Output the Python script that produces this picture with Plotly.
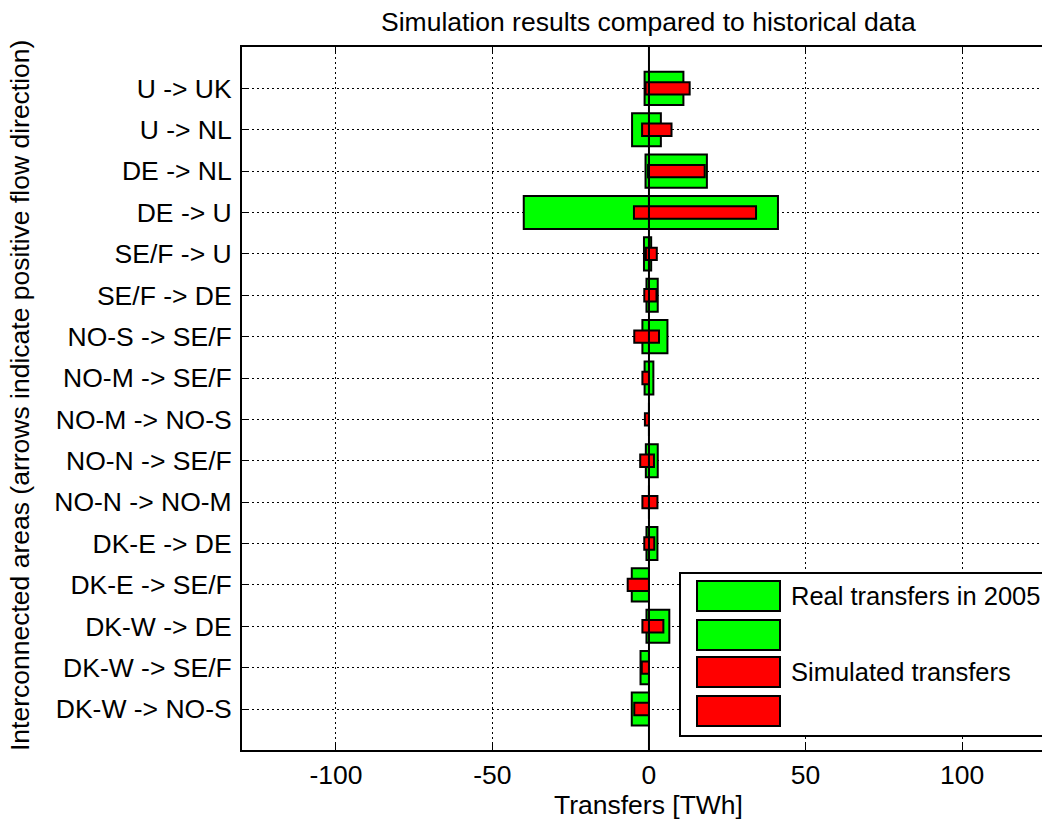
import plotly.graph_objects as go

categories = ["U -> UK", "U -> NL", "DE -> NL", "DE -> U", "SE/F -> U", "SE/F -> DE",
              "NO-S -> SE/F", "NO-M -> SE/F", "NO-M -> NO-S", "NO-N -> SE/F",
              "NO-N -> NO-M", "DK-E -> DE", "DK-E -> SE/F", "DK-W -> DE",
              "DK-W -> SE/F", "DK-W -> NO-S"]
real_pos = [11.0, 3.8, 18.5, 41.2, 0.7, 2.8, 5.9, 1.4, 0.0, 2.8, 0.0, 2.7, 0.0, 6.5, 0.0, 0.0]
real_neg = [-1.4, -5.4, -1.1, -40.0, -1.6, -0.8, -2.1, -1.4, 0.0, -1.0, 0.0, -0.8, -5.5, -0.8, -2.7, -5.5]
sim_pos = [13.0, 7.2, 17.8, 34.2, 2.5, 2.4, 3.2, 0.0, 0.0, 1.6, 2.7, 1.7, 0.0, 4.6, 0.0, 0.0]
sim_neg = [-1.1, -2.2, -0.3, -4.8, -1.0, -1.5, -4.7, -2.1, -1.3, -2.8, -2.1, -1.5, -6.8, -2.1, -2.3, -4.7]
x_tickvals = [-100, -50, 0, 50, 100]
x_ticktext = ["-100", "-50", "0", "50", "100"]
legend_labels = ["Real transfers in 2005", "", "Simulated transfers", ""]

GREEN = "#00FF00"
RED = "#FF0000"
FONT = "Liberation Sans, Arial, Helvetica, sans-serif"
FS = 26.5
FS_LEG = 25.5

fig = go.Figure()
for vals, color, w, name in [(real_pos, GREEN, 0.8, "Real transfers in 2005"),
                             (real_neg, GREEN, 0.8, " "),
                             (sim_pos, RED, 0.3, "Simulated transfers"),
                             (sim_neg, RED, 0.3, "  ")]:
    fig.add_trace(go.Bar(y=categories, x=vals, orientation="h", width=w,
                         marker=dict(color=color, line=dict(color="black", width=2)),
                         name=name, showlegend=False))

# page has an 8px body margin: figure coords = screen coords - 8
OFF = 8
W, H = 1042, 811
L, T = 242 - OFF, 47 - OFF
PB = 750 - OFF
R, B = 0, H - PB
pw, ph = W - L - R, PB - T


def px(xs):
    return (xs - OFF - L) / pw


def py(ys):
    return (PB - (ys - OFF)) / ph


shapes = [dict(type="line", xref="x", yref="paper", x0=0, x1=0, y0=0, y1=1,
               line=dict(color="black", width=2), layer="above")]
# legend box
shapes.append(dict(type="rect", xref="paper", yref="paper", x0=px(680), x1=px(1080),
                   y0=py(736), y1=py(573), fillcolor="white",
                   line=dict(color="black", width=2), layer="above"))
rows = [(581, 611), (620, 650), (657, 687), (696, 726)]
colors = [GREEN, GREEN, RED, RED]
annotations = []
for (y0, y1), c, lab in zip(rows, colors, legend_labels):
    shapes.append(dict(type="rect", xref="paper", yref="paper", x0=px(697), x1=px(780),
                       y0=py(y1), y1=py(y0), fillcolor=c,
                       line=dict(color="black", width=2), layer="above"))
    if lab:
        annotations.append(dict(text=lab, xref="paper", yref="paper", x=px(789),
                                y=py((y0 + y1) / 2), xanchor="left", yanchor="middle",
                                showarrow=False, font=dict(size=FS_LEG, color="black", family=FONT)))

annotations += [
    dict(text="Simulation results compared to historical data", xref="paper", yref="paper",
         x=px(648), y=py(22), xanchor="center", yanchor="middle", showarrow=False,
         font=dict(size=FS, color="black", family=FONT)),
    dict(text="Transfers [TWh]", xref="paper", yref="paper",
         x=px(648), y=py(805), xanchor="center", yanchor="middle", showarrow=False,
         font=dict(size=FS, color="black", family=FONT)),
    dict(text="Interconnected areas (arrows indicate positive flow direction)",
         xref="paper", yref="paper", x=px(20), y=py(396), xanchor="center", yanchor="middle",
         textangle=-90, showarrow=False, font=dict(size=FS, color="black", family=FONT)),
]

fig.update_layout(
    width=W, height=H,
    margin=dict(l=L, r=R, t=T, b=B, pad=0),
    paper_bgcolor="white", plot_bgcolor="white",
    barmode="overlay", showlegend=False,
    font=dict(family=FONT, size=FS, color="black"),
    shapes=shapes, annotations=annotations,
)
fig.update_xaxes(range=[-130, 128.1], tickvals=x_tickvals, ticktext=x_ticktext,
                 showgrid=True, gridcolor="black", gridwidth=1, griddash="2px,3px",
                 zeroline=False, showline=True, linecolor="black", linewidth=2,
                 mirror="ticks", ticks="inside", ticklen=7, tickcolor="black", tickwidth=1,
                 tickfont=dict(size=FS, family=FONT, color="black"))
fig.update_yaxes(type="category", range=[15.99, -1], categoryorder="array",
                 categoryarray=categories,
                 showgrid=True, gridcolor="black", gridwidth=1, griddash="2px,3px",
                 zeroline=False, showline=True, linecolor="black", linewidth=2,
                 mirror=False, ticks="inside", ticklen=7, tickcolor="black", tickwidth=1,
                 ticklabelstandoff=3,
                 tickfont=dict(size=FS, family=FONT, color="black"))

fig.write_html("out.html")
